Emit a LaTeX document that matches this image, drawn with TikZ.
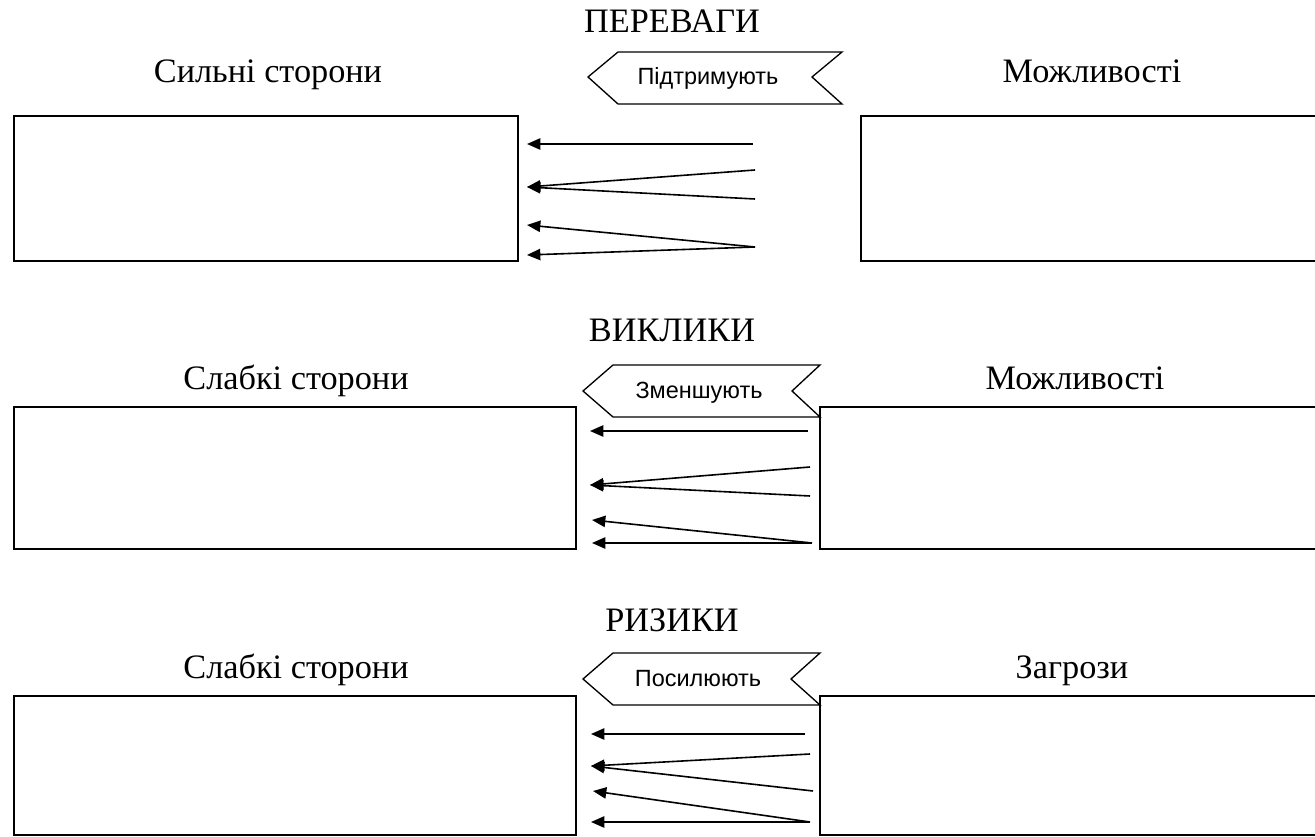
\documentclass[tikz,border=0pt]{standalone}
\usepackage{fontspec}
\setmainfont{Liberation Serif}
\newfontfamily\bannerfont{Liberation Sans}
\usetikzlibrary{arrows.meta, positioning}

\tikzset{
	box/.style={draw, line width=1.3pt},
	banner/.style={draw, line width=1pt, line join=miter},
	title/.style={anchor=base, font=\fontsize{25.7}{30}\selectfont},
	bannertext/.style={anchor=base, font=\bannerfont\fontsize{17.6}{21}\selectfont},
	link/.style={line width=1.2pt, -{Triangle[length=10pt, width=8.5pt]}}
}

\begin{document}
\begin{tikzpicture}[x=0.75pt, y=-0.75pt]
	\useasboundingbox (0,0) rectangle (1315,837);
	\clip (0,0) rectangle (1315,837);
	% Переваги
	\node[title] (t1) at (672,33) {ПЕРЕВАГИ};
	\node[title] (l1) at (268,83) {Сильні сторони};
	\node[title] (r1) at (1092,83) {Можливості};
	\draw[box] (14,116) rectangle (518,261);
	\draw[box] (861,116) rectangle (1330,261);
	\draw[banner] (588,77) -- (618,52) -- (842,52) -- (812,77) -- (842,104) -- (618,104) -- cycle;
	\node[bannertext] (b1) at (708,85) {Підтримують};
	\coordinate (a1) at (753,144);  \coordinate (e1) at (527,144);
	\coordinate (a2) at (755,170);  \coordinate (a3) at (755,199);
	\coordinate (e2) at (527,187);
	\coordinate (a4) at (755,247);
	\coordinate (e4) at (527,225);  \coordinate (e5) at (527,255);
	\draw[link] (a1) -- (e1);
	\draw[link] (a2) -- (e2);
	\draw[link] (a3) -- (e2);
	\draw[link] (a4) -- (e4);
	\draw[link] (a4) -- (e5);
	% Виклики
	\node[title] (t2) at (672,342) {ВИКЛИКИ};
	\node[title] (l2) at (296,390) {Слабкі сторони};
	\node[title] (r2) at (1075,390) {Можливості};
	\draw[box] (14,407) rectangle (576,549);
	\draw[box] (820,407) rectangle (1330,549);
	\draw[banner, fill=white] (583,391) -- (613,365) -- (820,365) -- (792,391) -- (820,417) -- (613,417) -- cycle;
	\node[bannertext] (b2) at (699,399) {Зменшують};
	\coordinate (c1) at (808,431);  \coordinate (f1) at (590,431);
	\coordinate (c2) at (810,467);  \coordinate (c3) at (810,496);
	\coordinate (f2) at (590,485);
	\coordinate (c4) at (812,543);
	\coordinate (f4) at (592,520);  \coordinate (f5) at (592,543);
	\draw[link] (c1) -- (f1);
	\draw[link] (c2) -- (f2);
	\draw[link] (c3) -- (f2);
	\draw[link] (c4) -- (f4);
	\draw[link] (c4) -- (f5);
	% Ризики
	\node[title] (t3) at (672,632) {РИЗИКИ};
	\node[title] (l3) at (296,679) {Слабкі сторони};
	\node[title] (r3) at (1072,679) {Загрози};
	\draw[box] (14,696) rectangle (576,835);
	\draw[box] (820,696) rectangle (1330,835);
	\draw[banner, fill=white] (583,679) -- (613,653) -- (820,653) -- (791,679) -- (820,705) -- (613,705) -- cycle;
	\node[bannertext] (b3) at (698,687) {Посилюють};
	\coordinate (d1) at (805,734);  \coordinate (g1) at (591,734);
	\coordinate (d2) at (810,754);  \coordinate (d3) at (813,791);
	\coordinate (g2) at (591,766);
	\coordinate (d4) at (810,822);
	\coordinate (g4) at (593,791);  \coordinate (g5) at (591,822);
	\draw[link] (d1) -- (g1);
	\draw[link] (d2) -- (g2);
	\draw[link] (d3) -- (g2);
	\draw[link] (d4) -- (g4);
	\draw[link] (d4) -- (g5);
\end{tikzpicture}
\end{document}
